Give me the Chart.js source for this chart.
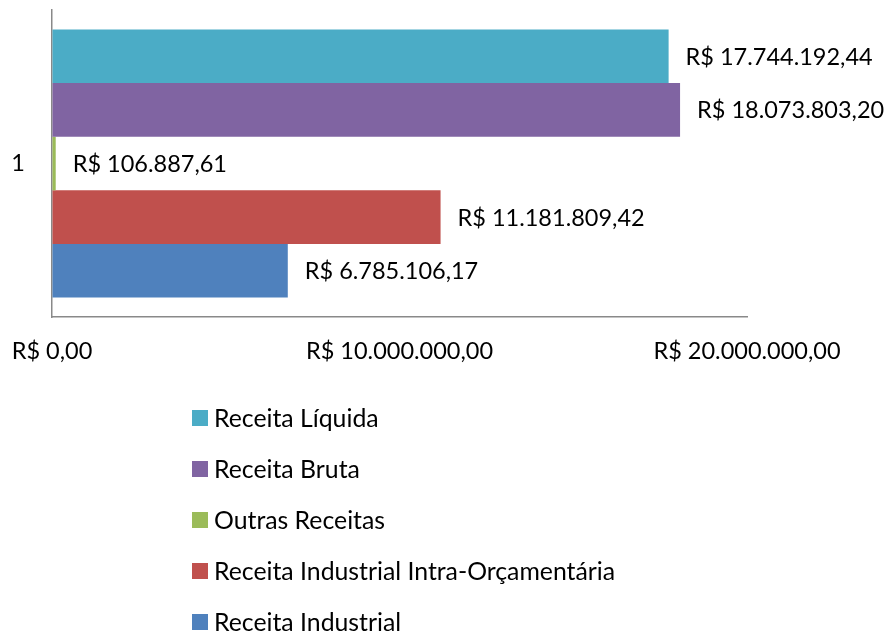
<!DOCTYPE html>
<html><head><meta charset="utf-8">
<script src="https://cdn.jsdelivr.net/npm/chart.js@4"></script>
<style>html,body{margin:0;padding:0;background:#fff;}#wrap{width:886px;height:633px;}</style>
</head><body><div id="wrap"><canvas id="c" width="886" height="633"></canvas></div>
<script>
const categories = ['1'];
const seriesNames = ['Receita Líquida','Receita Bruta','Outras Receitas','Receita Industrial Intra-Orçamentária','Receita Industrial'];
const seriesValues = [17744192.44, 18073803.20, 106887.61, 11181809.42, 6785106.17];
const seriesColors = ['#4BACC6','#8064A2','#9BBB59','#C0504D','#4F81BD'];
const xTicks = [0, 10000000, 20000000];

const FONT = 'Lato, "Open Sans", sans-serif';
const FSIZE = 23.5;
const LSIZE = 24.8;

function brl(v){
  const neg = v < 0; v = Math.abs(v);
  const fixed = v.toFixed(2);
  let [int, dec] = fixed.split('.');
  int = int.replace(/\B(?=(\d{3})+(?!\d))/g, '.');
  return (neg?'-':'') + 'R$ ' + int + ',' + dec;
}

const datasets = seriesNames.map((n,i)=>({
  label: n,
  data: [seriesValues[i]],
  backgroundColor: seriesColors[i],
  borderWidth: 0,
  categoryPercentage: 0.873,
  barPercentage: 1.0
}));

const labelPlugin = {
  id: 'valueLabels',
  afterDatasetsDraw(chart){
    const ctx = chart.ctx;
    ctx.save();
    ctx.font = FSIZE + 'px ' + FONT;
    ctx.fillStyle = '#000';
    ctx.textAlign = 'left';
    ctx.textBaseline = 'middle';
    chart.data.datasets.forEach((ds, i)=>{
      const meta = chart.getDatasetMeta(i);
      meta.data.forEach((el, j)=>{
        ctx.fillText(brl(ds.data[j]), el.x + 17, el.y + 1);
      });
    });
    ctx.restore();
  }
};

const legendPlugin = {
  id: 'vLegend',
  afterDraw(chart){
    const ctx = chart.ctx;
    ctx.save();
    ctx.font = LSIZE + 'px ' + FONT;
    ctx.textAlign = 'left';
    ctx.textBaseline = 'middle';
    const x0 = 192, y0 = 418, step = 51;
    chart.data.datasets.forEach((ds, i)=>{
      const cy = y0 + i*step;
      ctx.fillStyle = ds.backgroundColor;
      ctx.fillRect(x0, cy - 8, 16, 16);
      ctx.fillStyle = '#000';
      ctx.fillText(ds.label, x0 + 22, cy + 1);
    });
    ctx.restore();
  }
};

new Chart(document.getElementById('c'), {
  type: 'bar',
  data: { labels: categories, datasets },
  options: {
    indexAxis: 'y',
    responsive: false,
    animation: false,
    devicePixelRatio: 1,
    layout: { padding: { top: 10, right: 139, left: 0, bottom: 0 } },
    plugins: { legend: { display: false }, tooltip: { enabled: false } },
    scales: {
      x: {
        min: 0, max: 20000000,
        afterBuildTicks(scale){ scale.ticks = xTicks.map(v=>({value:v})); },
        afterFit(scale){ scale.height = 316; },
        grid: { display: true, drawOnChartArea: false, drawTicks: true, tickLength: 20, tickColor: 'rgba(0,0,0,0)' },
        border: { display: true, color: '#898989', width: 1.5 },
        ticks: {
          padding: 0, maxRotation: 0, autoSkip: false,
          color: '#000', font: { family: FONT, size: FSIZE },
          callback: (v)=>brl(v)
        }
      },
      y: {
        afterFit(scale){ scale.width = 52; },
        grid: { display: true, drawOnChartArea: false, drawTicks: true, tickLength: 27, tickColor: 'rgba(0,0,0,0)' },
        border: { display: true, color: '#898989', width: 1.5 },
        ticks: { padding: 0, color: '#000', font: { family: FONT, size: FSIZE, lineHeight: 0.6 } }
      }
    }
  },
  plugins: [labelPlugin, legendPlugin]
});
</script></body></html>
